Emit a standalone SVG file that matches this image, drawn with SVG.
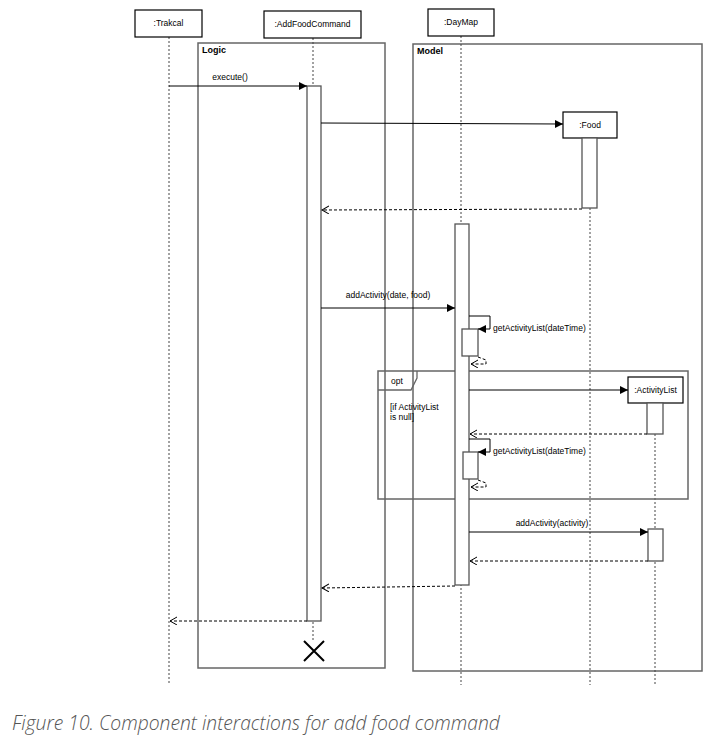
<svg xmlns="http://www.w3.org/2000/svg" width="725" height="747" viewBox="0 0 725 747">
<defs>
<marker id="fill" markerWidth="10" markerHeight="10" refX="8" refY="4" orient="auto" markerUnits="userSpaceOnUse"><path d="M0,0 L8,4 L0,8 Z" fill="#000"/></marker>
<marker id="open" markerWidth="10" markerHeight="10" refX="7" refY="4" orient="auto" markerUnits="userSpaceOnUse"><path d="M0,0 L7,4 L0,8" fill="none" stroke="#000" stroke-width="1"/></marker>
</defs>
<style>
.box{fill:#fff;stroke:#000;stroke-width:1.2}
.frame{fill:none;stroke:#666;stroke-width:1.5}
.act{fill:#fff;stroke:#555;stroke-width:1.3}
.life{stroke:#444;stroke-width:1;stroke-dasharray:2,2;fill:none}
.msg{stroke:#000;stroke-width:1;fill:none}
.ret{stroke:#000;stroke-width:1;stroke-dasharray:3,2;fill:none}
.t{font-family:"Liberation Sans",Arial,sans-serif;font-size:8.5px;fill:#000}
.b{font-family:"Liberation Sans",Arial,sans-serif;font-size:9px;font-weight:bold;fill:#000}
</style>
<rect width="725" height="747" fill="#fff"/>
<g id="frame-logic"><rect class="frame" x="198" y="43" width="187" height="625"/><text class="b" x="202" y="53">Logic</text></g>
<g id="frame-model"><rect class="frame" x="413" y="44" width="289" height="627"/><text class="b" x="417" y="54">Model</text></g>
<g id="lifelines">
<line class="life" x1="169" y1="37" x2="169" y2="685"/>
<line class="life" x1="313" y1="38" x2="313" y2="641"/>
<line class="life" x1="461" y1="36" x2="461" y2="685"/>
<line class="life" x1="590" y1="208" x2="590" y2="685"/>
<line class="life" x1="655" y1="434" x2="655" y2="685"/>
</g>
<g id="node-trakcal"><rect class="box" x="135" y="10" width="67" height="27"/><text class="t" x="168.5" y="26" text-anchor="middle">:Trakcal</text></g>
<g id="node-addfood"><rect class="box" x="264" y="11" width="97" height="27"/><text class="t" x="312.5" y="27" text-anchor="middle">:AddFoodCommand</text></g>
<g id="node-daymap"><rect class="box" x="428" y="9" width="66" height="27"/><text class="t" x="461" y="25" text-anchor="middle">:DayMap</text></g>
<g id="frame-opt">
<rect class="frame" x="378" y="371" width="310" height="128"/>
<path d="M378,390 L411,390 L417,378 L417,371" fill="none" stroke="#666" stroke-width="1.3"/>
<text class="t" x="397" y="384" text-anchor="middle">opt</text>
<text class="t" x="390" y="410">[if ActivityList</text>
<text class="t" x="390" y="420">is null]</text>
</g>
<g id="act-addfood"><rect class="act" x="307" y="86" width="14" height="535"/></g>
<g id="node-food"><rect class="box" x="563" y="112" width="54" height="26"/><text class="t" x="590" y="128" text-anchor="middle">:Food</text><rect class="act" x="582" y="138" width="15" height="70"/></g>
<g id="act-daymap"><rect class="act" x="455" y="224" width="14" height="361"/><rect class="act" x="462" y="329" width="16" height="27"/><rect class="act" x="463" y="452" width="15" height="27"/></g>
<g id="node-activitylist"><rect class="box" x="628" y="377" width="55" height="26"/><text class="t" x="655.5" y="393" text-anchor="middle">:ActivityList</text><rect class="act" x="647" y="403" width="16" height="31"/><rect class="act" x="648" y="529" width="15" height="32"/></g>
<g id="connectors">
<line class="msg" x1="169" y1="86" x2="307" y2="86" marker-end="url(#fill)"/>
<text class="t" x="230" y="80" text-anchor="middle">execute()</text>
<line class="msg" x1="321" y1="123" x2="563" y2="124" marker-end="url(#fill)"/>
<line class="ret" x1="582" y1="209" x2="322" y2="210" marker-end="url(#open)"/>
<line class="msg" x1="321" y1="308" x2="455" y2="308" marker-end="url(#fill)"/>
<text class="t" x="388" y="298" text-anchor="middle">addActivity(date, food)</text>
<path class="msg" d="M469,316 L490,316 L490,329 L478,329" marker-end="url(#fill)"/>
<text class="t" x="493" y="331">getActivityList(dateTime)</text>
<path class="ret" d="M478,357 L486,360 L486,364 L471,364" marker-end="url(#open)"/>
<line class="msg" x1="469" y1="390" x2="628" y2="390" marker-end="url(#fill)"/>
<line class="ret" x1="647" y1="434" x2="470" y2="434" marker-end="url(#open)"/>
<path class="msg" d="M469,439 L490,439 L490,452 L478,452" marker-end="url(#fill)"/>
<text class="t" x="493" y="454">getActivityList(dateTime)</text>
<path class="ret" d="M478,480 L486,483 L486,487 L471,487" marker-end="url(#open)"/>
<line class="msg" x1="469" y1="532" x2="648" y2="532" marker-end="url(#fill)"/>
<text class="t" x="552" y="526" text-anchor="middle">addActivity(activity)</text>
<line class="ret" x1="648" y1="561" x2="470" y2="561" marker-end="url(#open)"/>
<line class="ret" x1="455" y1="586" x2="322" y2="588" marker-end="url(#open)"/>
<line class="ret" x1="307" y1="621" x2="170" y2="621" marker-end="url(#open)"/>
</g>
<g id="destroy"><path d="M304,641 L324,661 M324,641 L304,661" stroke="#000" stroke-width="2" fill="none"/></g>
<text x="12" y="730" font-family="'Open Sans',sans-serif" font-style="italic" font-weight="300" font-size="19.3" fill="#555">Figure 10. Component interactions for add food command</text>
</svg>
